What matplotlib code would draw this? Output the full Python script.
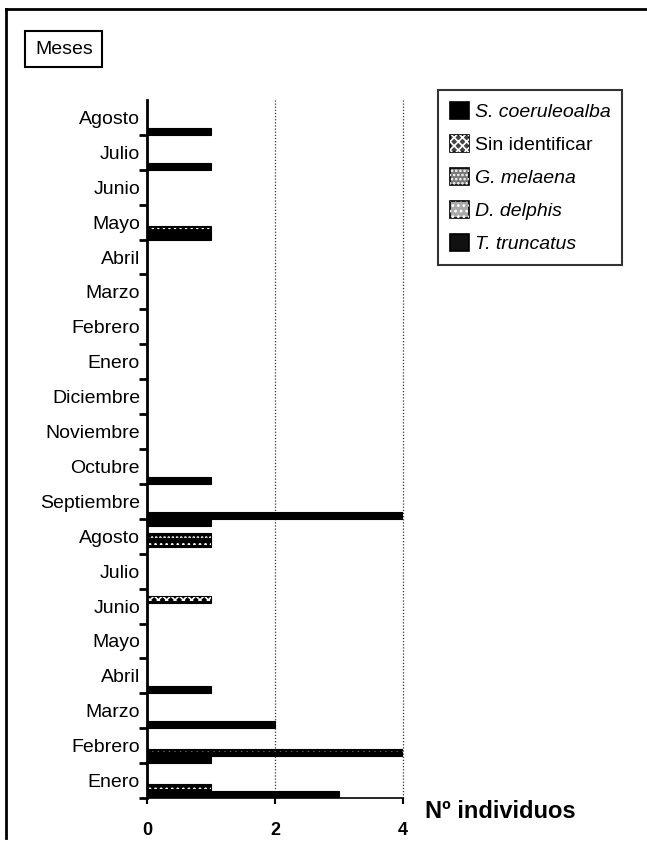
import numpy as np
import matplotlib.pyplot as plt
from matplotlib.patches import Patch
from matplotlib.lines import Line2D

plt.rcParams['font.family'] = ['Liberation Sans', 'DejaVu Sans']
plt.rcParams['hatch.linewidth'] = 1.2

# months from bottom to top
meses = ['Enero', 'Febrero', 'Marzo', 'Abril', 'Mayo', 'Junio', 'Julio', 'Agosto',
         'Septiembre', 'Octubre', 'Noviembre', 'Diciembre',
         'Enero', 'Febrero', 'Marzo', 'Abril', 'Mayo', 'Junio', 'Julio', 'Agosto']

especies = ['S. coeruleoalba', 'Sin identificar', 'G. melaena', 'D. delphis', 'T. truncatus']

s_coeruleoalba = [0, 0, 0, 0, 0, 0, 0, 1, 0, 0, 0, 0, 0, 0, 0, 0, 0, 0, 0, 0]
sin_identificar = [0, 0, 0, 0, 0, 1, 0, 0, 0, 0, 0, 0, 0, 0, 0, 0, 0, 0, 0, 0]
g_melaena = [0, 0, 0, 0, 0, 0, 0, 1, 0, 0, 0, 0, 0, 0, 0, 0, 0, 0, 0, 0]
d_delphis = [1, 4, 0, 0, 0, 0, 0, 1, 0, 0, 0, 0, 0, 0, 0, 0, 1, 0, 0, 0]
t_truncatus = [3, 1, 2, 1, 0, 0, 0, 0, 4, 1, 0, 0, 0, 0, 0, 0, 1, 0, 1, 1]

series = [s_coeruleoalba, sin_identificar, g_melaena, d_delphis, t_truncatus]
# white patterns over a dark fill
tramas = [None, 'xxxx', '....', '...', None]
fondo_leyenda = ['black', '#444444', '#777777', '#aaaaaa', '#111111']
trama_leyenda = [None, 'xxxx', '....', '...', None]

fig = plt.figure(figsize=(6.47, 8.47), dpi=100)
ax = fig.add_axes([147 / 647, 1 - 798 / 847, 256 / 647, 698 / 847])

n = len(meses)
slot = 0.2
for k, vals in enumerate(series):
    y = np.arange(n) + 1 - (k + 0.5) * slot
    ax.barh(y, vals, height=slot, facecolor='black', edgecolor='black', linewidth=0.8)
    if tramas[k]:
        ax.barh(y, vals, height=slot * 0.45, facecolor='none', edgecolor='white',
                hatch=tramas[k], linewidth=0)

ax.set_xlim(0, 4)
ax.set_ylim(0, n)

# vertical dotted grid
for xv in [2, 4]:
    ax.axvline(xv, color='#333333', linestyle=(0, (1, 1.5)), linewidth=0.9, zorder=0,
               clip_on=False)

ax.set_yticks(np.arange(n))
ax.set_yticklabels([])
ax.set_yticks(np.arange(n) + 0.5, minor=True)
ax.set_yticklabels(meses, minor=True, fontsize=14)
ax.tick_params(axis='y', which='major', length=6, width=2, direction='out')
ax.tick_params(axis='y', which='minor', length=0, pad=5)

ax.set_xticks([0, 2, 4])
ax.set_xticklabels(['0', '2', '4'], fontsize=13, fontweight='bold')
ax.tick_params(axis='x', length=4, width=1.5, pad=13)

ax.spines['top'].set_visible(False)
ax.spines['right'].set_visible(False)
ax.spines['left'].set_linewidth(2)
ax.spines['bottom'].set_linewidth(1.2)

fig.text(425 / 647, 1 - 811 / 847, 'Nº individuos', fontsize=17, fontweight='bold',
         va='center', ha='left')

fig.text(35 / 647, 1 - 49 / 847, 'Meses', fontsize=14, va='center', ha='left',
         bbox=dict(boxstyle='square,pad=0.5', facecolor='white', edgecolor='black', linewidth=1.5))

handles = []
for k in range(len(especies)):
    base = Patch(facecolor=fondo_leyenda[k], edgecolor='black', linewidth=1.2)
    if trama_leyenda[k]:
        sobre = Patch(facecolor='none', edgecolor='white', hatch=trama_leyenda[k], linewidth=0)
        handles.append((base, sobre))
    else:
        handles.append(base)
leg = fig.legend(handles=handles, labels=especies, loc='upper left',
                 bbox_to_anchor=(438 / 647, 1 - 90 / 847),
                 fontsize=14, frameon=True, fancybox=False, handlelength=1.0, handleheight=1.0,
                 labelspacing=0.7, handletextpad=0.3, borderpad=0.6, borderaxespad=0)
leg.get_frame().set_edgecolor('black')
leg.get_frame().set_linewidth(1.5)
for i, t in enumerate(leg.get_texts()):
    if i != 1:
        t.set_fontstyle('italic')

# outer frame (left and top)
fig.add_artist(Line2D([6 / 647, 6 / 647], [1 - 838 / 847, 1 - 9 / 847], color='black', linewidth=2))
fig.add_artist(Line2D([6 / 647, 1], [1 - 9 / 847, 1 - 9 / 847], color='black', linewidth=2))

fig.savefig('out.png', dpi=100)
